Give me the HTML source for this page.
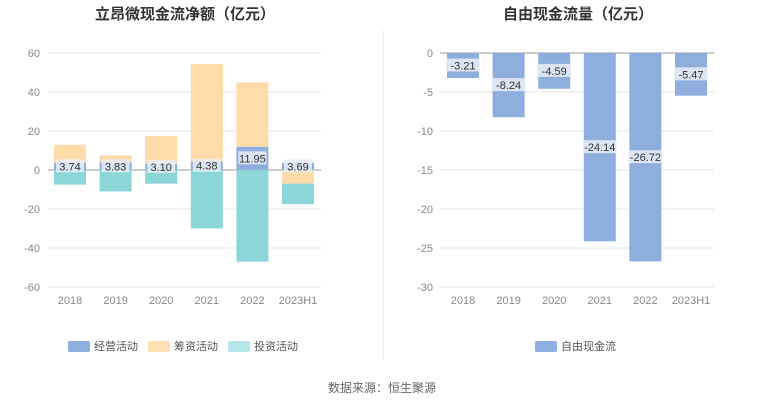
<!DOCTYPE html>
<html><head><meta charset="utf-8"><style>
body{margin:0;background:#fff;font-family:"Liberation Sans","Noto Sans CJK SC",sans-serif;}
svg text{font-family:"Liberation Sans","Noto Sans CJK SC",sans-serif;}
</style></head><body>
<svg id="c" width="765" height="406">
<text x="185" y="19" text-anchor="middle" font-size="15" font-weight="bold" fill="#333">立昂微现金流净额（亿元）</text>
<text x="578" y="19" text-anchor="middle" font-size="15" font-weight="bold" fill="#333">自由现金流量（亿元）</text>
<line x1="383" y1="30" x2="383" y2="360" stroke="#e8e8e8"/>
<g id="L"></g><g id="R"></g>
<g>
<rect x="68" y="341" width="22" height="11" rx="2" fill="#8eaedd"/>
<text x="94" y="350" font-size="11" fill="#555">经营活动</text>
<rect x="148" y="341" width="22" height="11" rx="2" fill="#fde0b3"/>
<text x="174" y="350" font-size="11" fill="#555">筹资活动</text>
<rect x="228" y="341" width="22" height="11" rx="2" fill="#b6e6e7"/>
<text x="254" y="350" font-size="11" fill="#555">投资活动</text>
</g>
<g>
<rect x="535" y="341" width="22" height="11" rx="2" fill="#8eaedd"/>
<text x="561" y="350" font-size="11" fill="#555">自由现金流</text>
</g>
<text x="382" y="392" text-anchor="middle" font-size="12" fill="#666">数据来源：恒生聚源</text>
</svg>
<script>
const categories=["2018","2019","2020","2021","2022","2023H1"];
const operating=[3.74,3.83,3.10,4.38,11.95,3.69];
const financing=[9.2,3.7,14.4,50.0,33.0,-7.0];
const investing=[-7.5,-11.0,-7.0,-30.0,-47.0,-10.5];
const fcf=[-3.21,-8.24,-4.59,-24.14,-26.72,-5.47];
const leftTicks=[60,40,20,0,-20,-40,-60];
const rightTicks=[0,-5,-10,-15,-20,-25,-30];
const NS="http://www.w3.org/2000/svg";
function mk(p,t,a){const e=document.createElementNS(NS,t);for(const k in a)e.setAttribute(k,a[k]);p.appendChild(e);return e;}
function yL(v){return 170-v*(117/60);}
function yR(v){return 53-v*(234/-30)*-1;}
function xL(i){return 70+i*45.6;}
function xR(i){return 463+i*45.6;}
const L=document.getElementById('L'),R=document.getElementById('R');
leftTicks.forEach(t=>{
 const l=mk(L,'line',{x1:48,x2:321,y1:yL(t),y2:yL(t),stroke:t===0?'#999':'#e6e6e6'});
 
 
 const tx=mk(L,'text',{x:40,y:yL(t)+4,'text-anchor':'end','font-size':11,fill:'#888'});tx.textContent=t;
 
 
});
rightTicks.forEach(t=>{
 const l=mk(R,'line',{x1:440,x2:714,y1:yR(t),y2:yR(t),stroke:t===0?'#999':'#e6e6e6'});
 
 
 const tx=mk(R,'text',{x:433,y:yR(t)+4,'text-anchor':'end','font-size':11,fill:'#888'});tx.textContent=t;
 
 
});
const bw=32;
categories.forEach((c,i)=>{
 const x=xL(i);
 let pos=0,neg=0;
 [[operating[i],'#8eaedd','bar-operating'],[financing[i],'#fddcaa','bar-financing'],[investing[i],'#8dd6d8','bar-investing']].forEach(([v,col,nm])=>{
  let a,b;if(v>=0){a=pos;b=pos+v;pos=b;}else{a=neg;b=neg+v;neg=b;}
  const r=mk(L,'rect',{x:x-bw/2,y:Math.min(yL(a),yL(b)),width:bw,height:Math.abs(yL(a)-yL(b)),fill:col});
  
  
 });
 const lbl=operating[i].toFixed(2);
 const bg=mk(L,'rect',{x:x-14,y:yL(operating[i]/2)-7,width:28,height:13,fill:'#e9eef7',opacity:0.85});
 
 
 const t=mk(L,'text',{x:x,y:yL(operating[i]/2)+4,'text-anchor':'middle','font-size':11,fill:'#333'});t.textContent=lbl;
 
 
 const ct=mk(L,'text',{x:x,y:304,'text-anchor':'middle','font-size':11,fill:'#888'});ct.textContent=c;
 
 
 const xr=xR(i);
 const rb=mk(R,'rect',{x:xr-bw/2,y:yR(0),width:bw,height:yR(fcf[i])-yR(0),fill:'#8eaedd'});
 
 
 const lb=mk(R,'rect',{x:xr-17,y:yR(fcf[i]/2)-7,width:34,height:13,fill:'#e9eef7',opacity:0.85});
 
 
 const rt=mk(R,'text',{x:xr,y:yR(fcf[i]/2)+4,'text-anchor':'middle','font-size':11,fill:'#333'});rt.textContent=fcf[i].toFixed(2);
 
 
 const rc=mk(R,'text',{x:xr,y:304,'text-anchor':'middle','font-size':11,fill:'#888'});rc.textContent=c;
 
 
});
</script>
</body></html>
